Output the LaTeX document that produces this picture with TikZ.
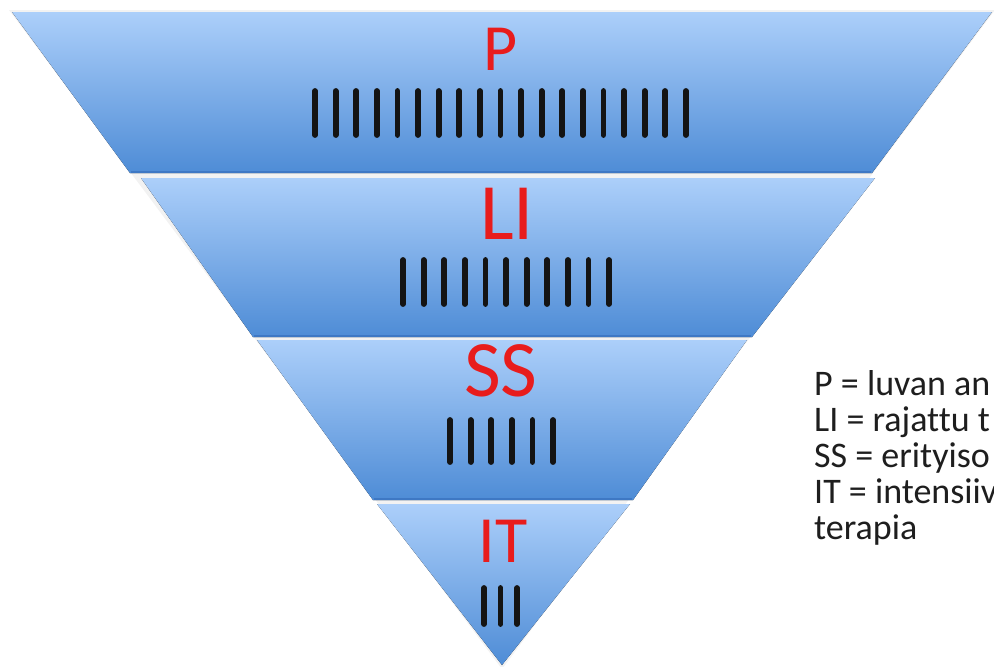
\documentclass[tikz,border=0pt]{standalone}
\usepackage{fontspec}
\setmainfont{Carlito}[Ligatures=NoCommon]
\definecolor{bandtop}{RGB}{172,207,250}
\definecolor{bandbot}{RGB}{78,140,214}
\definecolor{bandline}{RGB}{62,120,196}
\definecolor{lblred}{RGB}{232,28,28}
\definecolor{legendgray}{RGB}{30,30,30}
\begin{document}
\begin{tikzpicture}[x=1pt,y=-1pt,
  band/.style={top color=bandtop, bottom color=bandbot, draw=none},
  bandedge/.style={draw=bandline, line width=1.5pt},
  tally/.style={line width=5.8pt, line cap=round, draw=black!92},
  lbl/.style={text=lblred, anchor=base, inner sep=0pt},
  legendtxt/.style={anchor=base west, inner sep=0pt, font=\fontsize{36}{36}\selectfont, text=legendgray}]
\useasboundingbox (0,0) rectangle (994,667);
\fill[white] (0,0) rectangle (994,667);
% soft halo around the funnel
\fill[black, opacity=0.05] (9,10) -- (995,10) -- (502,669) -- cycle;
% bands
\fill[band] (12,12) -- (992,12) -- (872,173) -- (130,173) -- cycle;
\draw[bandedge] (131,172) -- (871,172);
\fill[band] (141,178) -- (875,178) -- (752,337) -- (253,337) -- cycle;
\draw[bandedge] (254,336) -- (751,336);
\fill[band] (257,340) -- (747,340) -- (633,500) -- (373,500) -- cycle;
\draw[bandedge] (374,499) -- (632,499);
\fill[band] (377,504) -- (630,504) -- (502,665) -- cycle;
% labels
\node[lbl, font=\fontsize{66}{70}\selectfont] (lp) at (501,70) {P};
\node[lbl, font=\fontsize{80}{84}\selectfont] (lli) at (507,239) {LI};
\node[lbl, font=\fontsize{80}{84}\selectfont] (lss) at (501,396) {SS};
\node[lbl, font=\fontsize{66}{70}\selectfont] (lit) at (503,562) {IT};
% tallies
\foreach \i in {0,...,18} \draw[tally] ({315+20.6*\i},91) -- ({315+20.6*\i},135);
\foreach \i in {0,...,10} \draw[tally] ({403+20.6*\i},260) -- ({403+20.6*\i},304);
\foreach \i in {0,...,5} \draw[tally] ({450+20.6*\i},420) -- ({450+20.6*\i},462);
\foreach \i in {0,1,2} \draw[tally] ({484+16.5*\i},588) -- ({484+16.5*\i},624);
% legend
\begin{scope}
\clip (0,0) rectangle (994,667);
\node[legendtxt] (g1) at (814,395) {P = luvan an};
\node[legendtxt] (g2) at (814,431) {LI = rajattu t};
\node[legendtxt] (g3) at (814,467) {SS = erityiso};
\node[legendtxt] (g4) at (814,503) {IT = intensiiv};
\node[legendtxt] (g5) at (814,539) {terapia};
\end{scope}
\end{tikzpicture}
\end{document}
